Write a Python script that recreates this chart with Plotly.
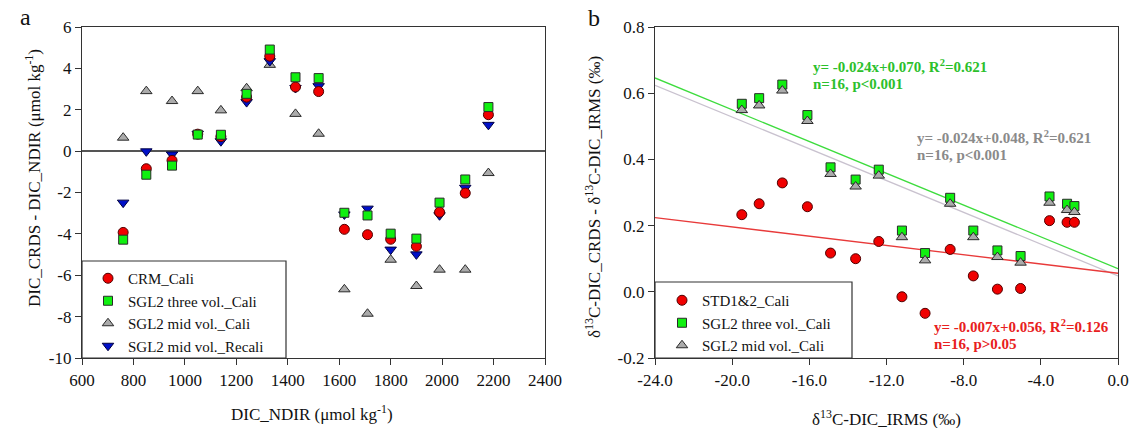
import plotly.graph_objects as go
import numpy as np

W, H = 1133, 428
FONT = "Liberation Serif"

# ---------------- Panel a data ----------------
dic_ndir = [760, 850, 950, 1050, 1140, 1240, 1330, 1430, 1520,
            1620, 1710, 1800, 1900, 1990, 2090, 2180]
crm_cali = [-3.93, -0.85, -0.45, 0.82, 0.70, 2.61, 4.59, 3.10, 2.88,
            -3.78, -4.04, -4.26, -4.60, -2.95, -2.03, 1.76]
sgl2_three_cali = [-4.28, -1.14, -0.70, 0.80, 0.79, 2.77, 4.91, 3.57, 3.53,
                   -2.98, -3.11, -3.99, -4.23, -2.49, -1.37, 2.13]
sgl2_mid_cali = [0.65, 2.90, 2.42, 2.90, 1.97, 3.04, 4.17, 1.80, 0.84,
                 -6.68, -7.86, -5.25, -6.52, -5.73, -5.73, -1.06]
sgl2_mid_recali = [-2.49, -0.01, -0.16, 0.84, 0.48, 2.37, 4.35, 3.05, 3.14,
                   -3.06, -2.78, -4.76, -4.99, -3.10, -1.77, 1.27]

a_xticks = [600, 800, 1000, 1200, 1400, 1600, 1800, 2000, 2200, 2400]
a_xticklabels = ["600", "800", "1000", "1200", "1400", "1600", "1800", "2000", "2200", "2400"]
a_yticks = [-10, -8, -6, -4, -2, 0, 2, 4, 6]
a_yticklabels = ["-10", "-8", "-6", "-4", "-2", "0", "2", "4", "6"]

# ---------------- Panel b data ----------------
d13c_irms = [-19.5, -18.6, -17.4, -16.1, -14.9, -13.6, -12.4, -11.2,
             -10.0, -8.7, -7.5, -6.25, -5.05, -3.55, -2.64, -2.26]
std12_cali = [0.233, 0.266, 0.329, 0.257, 0.117, 0.100, 0.152, -0.015,
              -0.065, 0.128, 0.048, 0.008, 0.010, 0.215, 0.210, 0.210]
sgl2_three_b = [0.568, 0.585, 0.626, 0.534, 0.376, 0.339, 0.369, 0.185,
                0.117, 0.284, 0.185, 0.125, 0.108, 0.288, 0.266, 0.259]
sgl2_mid_b = [0.549, 0.563, 0.608, 0.516, 0.356, 0.318, 0.351, 0.165,
              0.095, 0.266, 0.165, 0.105, 0.088, 0.269, 0.247, 0.241]

b_xticks = [-24, -20, -16, -12, -8, -4, 0]
b_xticklabels = ["-24.0", "-20.0", "-16.0", "-12.0", "-8.0", "-4.0", "0.0"]
b_yticks = [-0.2, 0.0, 0.2, 0.4, 0.6, 0.8]
b_yticklabels = ["-0.2", "0.0", "0.2", "0.4", "0.6", "0.8"]

# regression coefficients (slope, intercept) as reported
fit_slopes = [-0.024, -0.024, -0.007]
fit_intercepts = [0.070, 0.048, 0.056]
fit_colors = ["#3ddc3d", "#c9c2cf", "#e83a3a"]
fit_range = [-24.0, 0.0]


def px(x):
    return x / W


def py(y):
    return 1 - y / H


fig = go.Figure()

MK_LINE = dict(color="#2a2a2a", width=1)

# Panel a (draw order: gray, blue, red, green)
fig.add_trace(go.Scatter(x=dic_ndir, y=sgl2_mid_cali, mode="markers",
                         name="SGL2 mid vol._Cali", legendrank=3,
                         marker=dict(symbol="triangle-up", size=10, color="#ababab", line=MK_LINE),
                         xaxis="x", yaxis="y", legend="legend"))
fig.add_trace(go.Scatter(x=dic_ndir, y=sgl2_mid_recali, mode="markers",
                         name="SGL2 mid vol._Recali", legendrank=4,
                         marker=dict(symbol="triangle-down", size=10, color="#0010c8",
                                     line=dict(color="#000040", width=1)),
                         xaxis="x", yaxis="y", legend="legend"))
fig.add_trace(go.Scatter(x=dic_ndir, y=crm_cali, mode="markers",
                         name="CRM_Cali", legendrank=1,
                         marker=dict(symbol="circle", size=10, color="#f00000",
                                     line=dict(color="#500000", width=1)),
                         xaxis="x", yaxis="y", legend="legend"))
fig.add_trace(go.Scatter(x=dic_ndir, y=sgl2_three_cali, mode="markers",
                         name="SGL2 three vol._Cali", legendrank=2,
                         marker=dict(symbol="square", size=9, color="#10f010", line=MK_LINE),
                         xaxis="x", yaxis="y", legend="legend"))

# Panel b regression lines
for s, b, c in zip(fit_slopes, fit_intercepts, fit_colors):
    xs = np.array(fit_range)
    fig.add_trace(go.Scatter(x=xs, y=s * xs + b, mode="lines", showlegend=False,
                             line=dict(color=c, width=1.3), hoverinfo="skip",
                             xaxis="x2", yaxis="y2"))

fig.add_trace(go.Scatter(x=d13c_irms, y=std12_cali, mode="markers",
                         name="STD1&2_Cali",
                         marker=dict(symbol="circle", size=10, color="#f00000",
                                     line=dict(color="#500000", width=1)),
                         xaxis="x2", yaxis="y2", legend="legend2"))
fig.add_trace(go.Scatter(x=d13c_irms, y=sgl2_three_b, mode="markers",
                         name="SGL2 three vol._Cali",
                         marker=dict(symbol="square", size=9, color="#10f010", line=MK_LINE),
                         xaxis="x2", yaxis="y2", legend="legend2"))
fig.add_trace(go.Scatter(x=d13c_irms, y=sgl2_mid_b, mode="markers",
                         name="SGL2 mid vol._Cali",
                         marker=dict(symbol="triangle-up", size=10, color="#ababab", line=MK_LINE),
                         xaxis="x2", yaxis="y2", legend="legend2"))

axis_common = dict(showgrid=False, showline=True, linecolor="#333", linewidth=1.2,
                   mirror=True, ticks="outside", ticklen=6, tickcolor="#333",
                   tickfont=dict(family=FONT, size=17, color="#111"),
                   automargin=False, tickmode="array")

fig.update_layout(
    width=W, height=H,
    margin=dict(l=0, r=0, t=0, b=0),
    paper_bgcolor="white", plot_bgcolor="white",
    font=dict(family=FONT, color="#111"),
    xaxis=dict(domain=[px(82), px(545)], range=[600, 2400],
               tickvals=a_xticks, ticktext=a_xticklabels,
               anchor="y", **axis_common),
    yaxis=dict(domain=[py(358), py(27)], range=[-10, 6],
               tickvals=a_yticks, ticktext=a_yticklabels,
               anchor="x", zeroline=True, zerolinecolor="#555", zerolinewidth=1.5,
               **axis_common),
    xaxis2=dict(domain=[px(655), px(1118)], range=[-24, 0],
                tickvals=b_xticks, ticktext=b_xticklabels,
                anchor="y2", zeroline=False, **axis_common),
    yaxis2=dict(domain=[py(358), py(27)], range=[-0.2, 0.8],
                tickvals=b_yticks, ticktext=b_yticklabels,
                anchor="x2", zeroline=False, **axis_common),
    legend=dict(x=px(88), y=py(262), xanchor="left", yanchor="top",
                bgcolor="rgba(0,0,0,0)", borderwidth=0,
                font=dict(family=FONT, size=15, color="#111"), tracegroupgap=0),
    legend2=dict(x=px(662), y=py(284), xanchor="left", yanchor="top",
                 bgcolor="rgba(0,0,0,0)", borderwidth=0,
                 font=dict(family=FONT, size=15, color="#111"), tracegroupgap=0,
                 traceorder="normal"),
    showlegend=True,
)

# legend boxes
shapes = [
    dict(type="rect", xref="paper", yref="paper", x0=px(82), x1=px(286),
         y0=py(358), y1=py(261), line=dict(color="#333", width=1.2), fillcolor="white",
         layer="below"),
    dict(type="rect", xref="paper", yref="paper", x0=px(655), x1=px(852),
         y0=py(358), y1=py(282), line=dict(color="#333", width=1.2), fillcolor="white",
         layer="below"),
]
fig.update_layout(shapes=shapes)

ann = []


def add_text(text, x, y, size=17, color="#111", xanchor="center", textangle=0, bold=False):
    t = f"<b>{text}</b>" if bold else text
    ann.append(dict(text=t, x=px(x), y=py(y), xref="paper", yref="paper",
                    xanchor=xanchor, yanchor="middle", showarrow=False,
                    textangle=textangle,
                    font=dict(family=FONT, size=size, color=color)))


add_text("a", 25, 17, size=24)
add_text("b", 594, 18, size=24)
add_text("DIC_NDIR (μmol kg<sup>-1</sup>)", 312, 413)
add_text("δ<sup>13</sup>C-DIC_IRMS (‰)", 886, 418)
add_text("DIC_CRDS - DIC_NDIR (μmol kg<sup>-1</sup>)", 33, 178, textangle=-90)
add_text("δ<sup>13</sup>C-DIC_CRDS - δ<sup>13</sup>C-DIC_IRMS (‰)", 593, 197, textangle=-90)

add_text("y= -0.024x+0.070, R<sup>2</sup>=0.621", 811, 66, size=15, color="#2cc02c", xanchor="left", bold=True)
add_text("n=16, p&lt;0.001", 811, 84, size=15, color="#2cc02c", xanchor="left", bold=True)
add_text("y= -0.024x+0.048, R<sup>2</sup>=0.621", 915, 137, size=15, color="#8a8a8a", xanchor="left", bold=True)
add_text("n=16, p&lt;0.001", 915, 155, size=15, color="#8a8a8a", xanchor="left", bold=True)
add_text("y= -0.007x+0.056, R<sup>2</sup>=0.126", 932, 326, size=15, color="#e82020", xanchor="left", bold=True)
add_text("n=16, p&gt;0.05", 932, 344, size=15, color="#e82020", xanchor="left", bold=True)

fig.update_layout(annotations=ann)

fig.write_html("out.html")
